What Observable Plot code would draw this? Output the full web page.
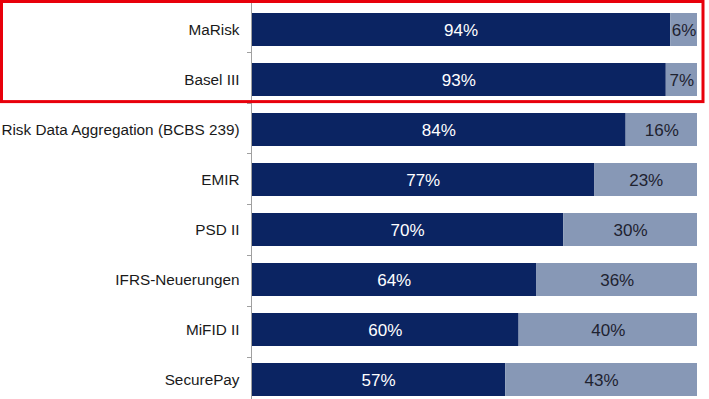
<!DOCTYPE html>
<html>
<head>
<meta charset="utf-8">
<script src="https://cdn.jsdelivr.net/npm/d3@7"></script>
<script src="https://cdn.jsdelivr.net/npm/@observablehq/plot@0.6"></script>
<style>
  html, body { margin: 0; padding: 0; background: #fff; }
  #chart { width: 709px; height: 399px; overflow: hidden; }
</style>
</head>
<body>
<div id="chart"></div>
<script>
const categories = ["MaRisk", "Basel III", "Risk Data Aggregation (BCBS 239)", "EMIR", "PSD II", "IFRS-Neuerungen", "MiFID II", "SecurePay"];
const yesValues = [94, 93, 84, 77, 70, 64, 60, 57];
const noValues = [6, 7, 16, 23, 30, 36, 40, 43];
const highlighted = ["MaRisk", "Basel III"];

const dark = "#0b2462";
const light = "#8798b6";

const rows = [];
categories.forEach((c, i) => {
  rows.push({cat: c, series: "ja", value: yesValues[i]});
  rows.push({cat: c, series: "nein", value: noValues[i]});
});

const plot = Plot.plot({
  width: 709,
  height: 399,
  marginLeft: 251,
  marginRight: 12,
  marginTop: 0,
  marginBottom: 0,
  style: {fontFamily: "'Liberation Sans', Arial, sans-serif", color: "#1a1a1a", background: "#fff"},
  x: {domain: [0, 100], axis: null},
  y: {domain: categories, range: [1, 407.4], paddingInner: 0.35, paddingOuter: 0.175, axis: null, label: null},
  color: {domain: ["ja", "nein"], range: [dark, light]},
  marks: [
    Plot.barX(rows, Plot.stackX({x: "value", y: "cat", fill: "series", order: ["ja", "nein"]})),
    Plot.ruleX([0], {stroke: "#a0a0a0", strokeWidth: 1}),
    Plot.axisY({tickSize: 0, tickPadding: 12, fontSize: 15.3, label: null}),
    Plot.text(categories, {y: d => d, x: (d, i) => yesValues[i] / 2, text: (d, i) => yesValues[i] + "%", fill: "white", fontSize: 17, dy: 1}),
    Plot.text(categories, {y: d => d, x: (d, i) => yesValues[i] + noValues[i] / 2, text: (d, i) => noValues[i] + "%", fill: "#1e2230", fontSize: 17, dy: 1})
  ]
});

document.getElementById("chart").appendChild(plot);

// Category boundary ticks and highlight frame, derived from the y scale
const ys = plot.scale("y");
const yScale = d3.scaleBand().domain(ys.domain).range(ys.range).paddingInner(ys.paddingInner).paddingOuter(ys.paddingOuter);
const gap = yScale.step() - yScale.bandwidth();
const x0 = plot.scale("x").apply(0);
const svg = d3.select(plot);
const g = svg.append("g");
categories.slice(1).forEach(c => {
  const yb = Math.round(yScale(c) - gap / 2) + 0.5;
  g.append("line").attr("x1", x0 - 4).attr("x2", x0).attr("y1", yb).attr("y2", yb)
    .attr("stroke", "#a0a0a0").attr("stroke-width", 1);
});
const last = highlighted[highlighted.length - 1];
const yBottom = yScale(last) + yScale.bandwidth() + gap / 2;
svg.append("rect")
  .attr("x", 1.5).attr("y", 1.5)
  .attr("width", 709 - 6 - 1.5)
  .attr("height", yBottom - 1.5 - 1)
  .attr("fill", "none").attr("stroke", "#e8000b").attr("stroke-width", 3);
</script>
</body>
</html>
